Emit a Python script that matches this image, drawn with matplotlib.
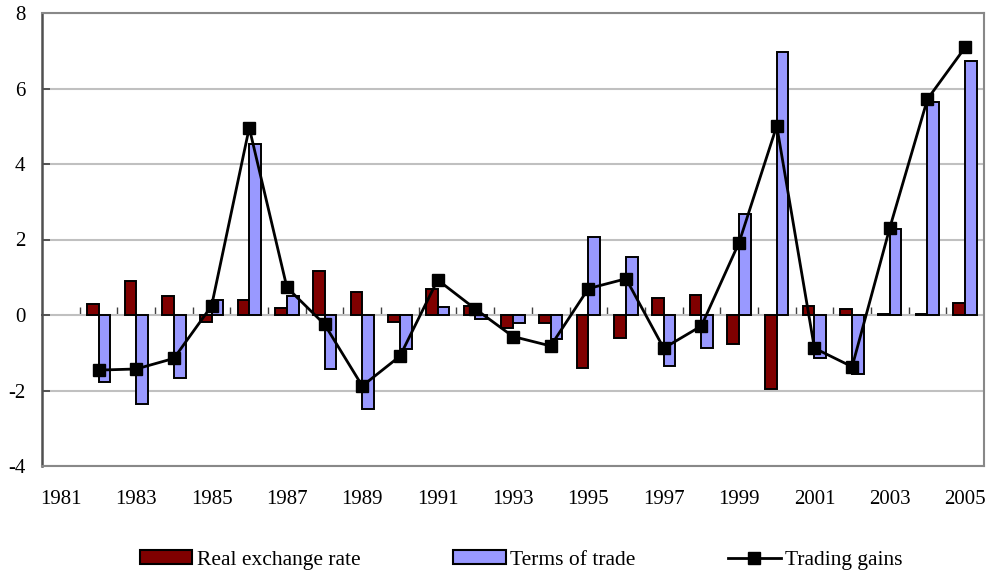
import numpy as np
import matplotlib
matplotlib.use("Agg")
import matplotlib.pyplot as plt
from matplotlib.patches import Patch
from matplotlib.lines import Line2D

plt.rcParams['font.family'] = ['Liberation Serif', 'DejaVu Serif']

years = list(range(1981, 2006))
real_exchange_rate = [np.nan, 0.29, 0.91, 0.51, -0.19, 0.40, 0.19, 1.17, 0.60, -0.19,
                      0.70, 0.24, -0.35, -0.20, -1.40, -0.60, 0.45, 0.54, -0.78, -1.95,
                      0.25, 0.17, 0.02, 0.02, 0.33]
terms_of_trade = [np.nan, -1.77, -2.37, -1.66, 0.41, 4.54, 0.51, -1.44, -2.50, -0.89,
                  0.22, -0.10, -0.20, -0.63, 2.07, 1.54, -1.34, -0.87, 2.68, 6.96,
                  -1.15, -1.55, 2.29, 5.65, 6.74]
trading_gains = [np.nan, -1.46, -1.43, -1.15, 0.24, 4.96, 0.73, -0.25, -1.88, -1.09,
                 0.93, 0.16, -0.57, -0.82, 0.70, 0.96, -0.88, -0.29, 1.92, 5.01,
                 -0.88, -1.37, 2.31, 5.72, 7.09]
year_labels = [str(y) for y in years[::2]]

red = '#800000'
blue = '#9999ff'

fig = plt.figure(figsize=(9.9, 5.73), dpi=100)
ax = fig.add_axes([42/990, 107/573, (984-42)/990, (466-13)/573])

x = np.arange(len(years))
w = 0.31
ax.bar(x - w/2, real_exchange_rate, width=w, color=red, edgecolor='black', linewidth=1.4, zorder=3)
ax.bar(x + w/2, terms_of_trade, width=w, color=blue, edgecolor='black', linewidth=1.4, zorder=3)
ax.plot(x, trading_gains, color='black', lw=2, marker='s', markersize=8.5, zorder=5)

ax.set_xlim(-0.5, len(years) - 0.5)
ax.set_ylim(-4, 8)
ax.set_yticks([-4, -2, 0, 2, 4, 6, 8])
ax.set_yticklabels(['-4', '-2', '0', '2', '4', '6', '8'], fontsize=15)
ax.yaxis.grid(True, color='#c0c0c0', lw=1.5, zorder=0)
ax.set_axisbelow(True)

ax.set_xticks(x[::2])
ax.set_xticklabels(year_labels, fontsize=15)
ax.tick_params(axis='x', length=0, pad=17)
ax.tick_params(axis='y', direction='in', length=6, width=1.2, color='#404040', pad=12)

for s in ['top', 'bottom', 'right']:
    ax.spines[s].set_color('#888888')
    ax.spines[s].set_linewidth(1.5)
ax.spines['left'].set_color('#505050')
ax.spines['left'].set_linewidth(1.8)

# zero category axis with boundary ticks
sec = ax.secondary_xaxis(4/12)
sec.set_xticks(np.arange(0.5, len(years) - 0.5, 1))
sec.set_xticklabels([])
sec.tick_params(axis='x', direction='in', length=6, width=1, color='#404040')
sec.spines['bottom'].set_color('black')
sec.spines['bottom'].set_linewidth(1.2)

handles = [Patch(facecolor=red, edgecolor='black', linewidth=1.5, label='Real exchange rate'),
           Patch(facecolor=blue, edgecolor='black', linewidth=1.5, label='Terms of trade'),
           Line2D([0], [0], color='black', lw=2, marker='s', markersize=8.5, label='Trading gains')]
fig.legend(handles=handles, loc='center', bbox_to_anchor=(521/990, 1 - 560/573), ncol=3,
           frameon=False, fontsize=15.5, handlelength=2.45, handleheight=0.6,
           handletextpad=0.2, columnspacing=4.3)

fig.savefig('out.png', dpi=100)
